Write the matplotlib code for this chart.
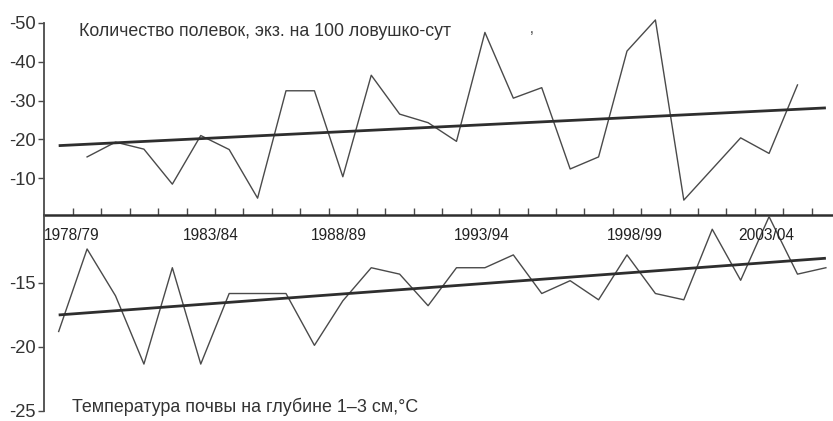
import numpy as np
import matplotlib
matplotlib.use("Agg")
import matplotlib.pyplot as plt

plt.rcParams['font.family'] = ['Liberation Sans', 'DejaVu Sans']

# region data
nan = np.nan
# seasons 1978/79 ... 2005/06, one point per season
seasons = [f"{y}/{(y + 1) % 100:02d}" for y in range(1978, 2006)]

# voles per 100 trap-days (no data in first and last season)
voles = [nan, 15.5, 19.3, 17.5, 8.5, 21.0, 17.4, 4.9, 32.5, 32.5, 10.4, 36.5,
         26.5, 24.3, 19.5, 47.5, 30.6, 33.3, 12.4, 15.5, 42.7, 50.7, 4.4, 12.4,
         20.4, 16.4, 34.0, nan]
voles_trend = [18.4, 28.1]  # at first and last season

# soil temperature at 1-3 cm, deg C
soil_t = [-18.81, -12.38, -16.03, -21.35, -13.84, -21.35, -15.85, -15.85,
          -15.85, -19.89, -16.42, -13.84, -14.34, -16.80, -13.84, -13.84,
          -12.84, -15.85, -14.85, -16.34, -12.84, -15.85, -16.34, -10.84,
          -14.82, -9.86, -14.34, -13.84]
soil_trend = [-17.52, -13.10]

# labelled seasons and where their labels sit (in season index)
label_seasons = ['1978/79', '1983/84', '1988/89', '1993/94', '1998/99', '2003/04']
label_pos = [0.47, 5.36, 9.86, 14.9, 20.28, 24.89]

top_ticks = [10, 20, 30, 40, 50]
top_ticklabels = ['-10', '-20', '-30', '-40', '-50']
bottom_ticks = [-25, -20, -15]
bottom_ticklabels = ['-25', '-20', '-15']
# endregion

x = np.arange(len(seasons))
x_ends = [x[0], x[-1]]
XLIM = (-0.517, 27.25)
GREY = '#4a4a4a'
DARK = '#2e2e2e'
TXT = '#333333'

fig = plt.figure(figsize=(8.33, 4.21), dpi=100)
ax1 = fig.add_axes([0.0528, 0.4893, 0.9472, 0.4568])
ax2 = fig.add_axes([0.0528, 0.024, 0.9472, 0.4653])

# region top panel
ax1.plot(x, voles, color=GREY, lw=1.0, clip_on=False)
ax1.plot(x_ends, voles_trend, color=DARK, lw=2.0, solid_capstyle='butt')
ax1.set_xlim(XLIM)
ax1.set_ylim(0.57, 50)
for s in ['top', 'right']:
    ax1.spines[s].set_visible(False)
ax1.spines['left'].set_color(GREY)
ax1.spines['left'].set_linewidth(1.3)
ax1.spines['bottom'].set_color(DARK)
ax1.spines['bottom'].set_linewidth(1.8)
ax1.set_yticks(top_ticks)
ax1.set_yticklabels(top_ticklabels)
ax1.tick_params(axis='y', direction='out', length=4, width=1, color=GREY,
                labelsize=13.2, labelcolor=TXT, pad=2)
ax1.set_xticks(np.arange(0.5, 27, 1.0))
ax1.tick_params(axis='x', direction='in', length=5, width=1, color=GREY,
                labelbottom=False)
ax1.patch.set_visible(False)
# endregion

# region bottom panel
ax2.plot(x, soil_t, color=GREY, lw=1.0, clip_on=False)
ax2.plot(x_ends, soil_trend, color=DARK, lw=2.0, solid_capstyle='butt')
ax2.set_xlim(XLIM)
ax2.set_ylim(-25, -9.73)
for s in ['top', 'right', 'bottom']:
    ax2.spines[s].set_visible(False)
ax2.spines['left'].set_color(GREY)
ax2.spines['left'].set_linewidth(1.3)
ax2.set_xticks([])
ax2.set_yticks(bottom_ticks)
ax2.set_yticklabels(bottom_ticklabels)
ax2.tick_params(axis='y', direction='out', length=4, width=1, color=GREY,
                labelsize=13.2, labelcolor=TXT, pad=2)
ax2.patch.set_visible(False)

for pos, lab in zip(label_pos, label_seasons):
    ax2.text(pos, -11.35, lab, ha='center', va='center', fontsize=11.2,
             color='#222222')
# endregion

fig.text(0.095, 0.926, 'Количество полевок, экз. на 100 ловушко-сут',
         fontsize=12.8, color=TXT, va='center', ha='left')
fig.text(0.636, 0.93, ',', fontsize=10, color=TXT, va='center', ha='left')
fig.text(0.086, 0.033, 'Температура почвы на глубине 1–3 см,°С',
         fontsize=12.9, color=TXT, va='center', ha='left')

fig.savefig('out.png', dpi=100)
